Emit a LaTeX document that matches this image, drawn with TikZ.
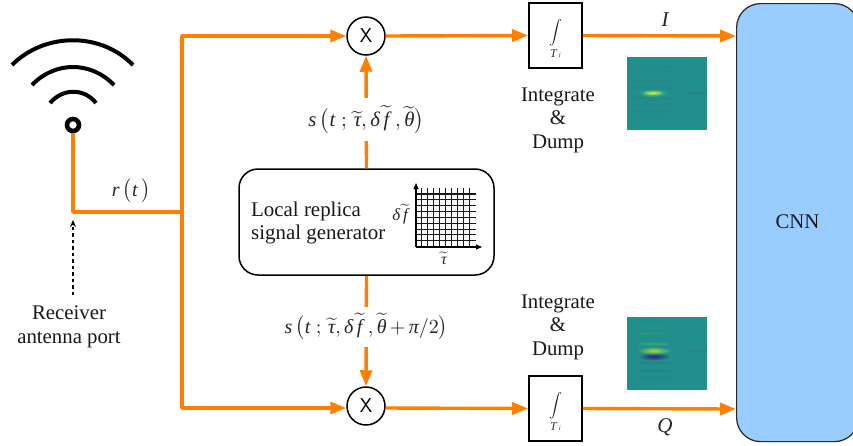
\documentclass[tikz,border=0pt]{standalone}
\usepackage{fontspec}
\usepackage{amsmath}
\usepackage{graphicx}
\setmainfont{Liberation Serif}
\usetikzlibrary{arrows.meta,calc}
\definecolor{sig}{HTML}{FF8000}
\definecolor{cnnblue}{HTML}{99CCFF}
\definecolor{teal1}{HTML}{21908C}
\definecolor{teal2}{HTML}{2A7F8E}
\definecolor{vgreen}{HTML}{5EC962}
\definecolor{vyellow}{HTML}{F0E51E}
\definecolor{vlime}{HTML}{A8DB34}
\definecolor{vpurple}{HTML}{3B1C70}
\tikzset{
  x=1pt,y=-1pt,
  sigline/.style={draw=sig,line width=3.4pt,line join=round},
  sigarrow/.style={sigline,-{Triangle[length=16pt,width=12pt]}},
  wifi/.style={draw=black,line width=4pt},
  mixer/.style={circle,draw=black,line width=1.5pt,minimum size=38pt,inner sep=0pt,font=\fontsize{20}{20}\sffamily},
  intbox/.style={rectangle,draw=black,line width=1.6pt,minimum width=53pt,minimum height=65pt,inner sep=0pt},
  intsym/.style={inner sep=0pt,text=black!90},
  intsub/.style={inner sep=0pt,text=black!80,font=\fontsize{12}{12}\selectfont\itshape},
  txt/.style={font=\fontsize{20.8}{23.5}\selectfont,align=center,text=black!90,inner sep=0pt},
  smalltxt/.style={font=\fontsize{20.9}{23.5}\selectfont,align=left,text=black!90,inner sep=0pt},
  mathlbl/.style={inner sep=0pt,text=black!85},
  heat/.style={fill=teal1,draw=none},
}
\newcommand{\itg}[1]{\hbox{\itshape #1}}
\newcommand{\wtl}[1]{\ensuremath{\widetilde{\itg{#1}}}}
\newcommand{\bigint}{\scalebox{1.3}[1.2]{$\displaystyle\int$}}
\newcommand{\subT}{T\,{\fontsize{7}{7}\selectfont i}}
\newcommand{\sigT}{\raisebox{-2pt}{\scalebox{2.08}{$\itg{s}\,\bigl(\itg{t}\;;\,\wtl{τ},\itg{δ}\,\wtl{f}\;,\wtl{θ}\bigr)$}}}
\newcommand{\sigB}{\raisebox{-3pt}{\scalebox{2}{$\itg{s}\,\bigl(\itg{t}\;;\,\wtl{τ},\itg{δ}\,\wtl{f}\;,\wtl{θ}\,{+}\,\itg{π}/2\bigr)$}}}
\begin{document}
\begin{tikzpicture}
\useasboundingbox (0,0) rectangle (853,445);
\clip (0,0) rectangle (853,445);
\fill[white] (0,0) rectangle (853,445);

% CNN
\node[draw=black!85,fill=cnnblue,line width=1.2pt,rounded corners=24pt,minimum width=122pt,minimum height=438pt,inner sep=0pt,anchor=north west] (cnn) at (736,3) {};
\node[txt] (cnnlbl) at (797.5,222) {CNN};

% wifi
\draw[wifi] (12,65) .. controls (45,32) and (101,32) .. (133,65);
\draw[wifi] (32,85) .. controls (55,61) and (91,61) .. (114,85);
\draw[wifi] (50,103) .. controls (63,88) and (84,88) .. (96,103);
\node[circle,draw=black,line width=4.6pt,minimum size=12pt,inner sep=0pt] (ant) at (73,125) {};

% junctions
\coordinate (rcorner) at (73,212);
\coordinate (bus) at (182,212);
\coordinate (busT) at (182,36);
\coordinate (busB) at (182,408);
\coordinate (cnnT) at (736,36);
\coordinate (cnnB) at (736,409);

% mixers, integrators, generator
\node[mixer] (mixT) at (366,36) {X};
\node[mixer] (mixB) at (366,406) {X};
\node[intbox] (intT) at (555.5,35.5) {};
\node[intbox] (intB) at (555.5,408.5) {};
\node[intsym] (symT) at (555.5,33) {\bigint};
\node[intsym] (symB) at (555.5,406) {\bigint};
\node[intsub] (subT) at (555.5,54) {\subT};
\node[intsub] (subB) at (555.5,427) {\subT};
\node[draw=black,line width=1.5pt,rounded corners=19pt,minimum width=255pt,minimum height=106pt,inner sep=0pt] (gen) at (366.5,222) {};

% connectors
\draw[sigline] (ant.south) -- (rcorner) -- (bus);
\draw[sigarrow] (bus) -- (busT) -- (mixT.west);
\draw[sigarrow] (bus) -- (busB) -- ($(mixB.west)+(0,2)$);
\draw[sigarrow] (mixT.east) -- (intT.west);
\draw[sigarrow] ($(mixB.east)+(0,2)$) -- (intB.west);
\draw[sigarrow] (intT.east) -- (cnnT);
\draw[sigarrow] (intB.east) -- (cnnB);
\draw[sigarrow] (gen.north) -- node[pos=.43,fill=white,mathlbl,minimum height=43pt,minimum width=116pt] (sT) {\sigT} (mixT.south);
\draw[sigarrow] (gen.south) -- node[pos=.46,fill=white,mathlbl,minimum height=40pt,minimum width=158pt] (sB) {\sigB} (mixB.north);

% generator contents
\node[smalltxt,anchor=west] (genlbl) at (251,223) {Local replica\\signal generator};
\draw[black!90,line width=1.05pt] \foreach \i in {1,...,9}{(416+5.9*\i,188) -- (416+5.9*\i,247)}
  \foreach \j in {0,...,9}{(416,194+5.85*\j) -- (475.5,194+5.85*\j)};
\node[mathlbl] (df) at (400,214) {\scalebox{1.7}{$\itg{δ}\,\wtl{f}$}};
\node[mathlbl] (tau) at (444,258.5) {\scalebox{1.6}{$\wtl{τ}$}};
\coordinate (orig) at (416,247);
\coordinate (xend) at (482,247);
\coordinate (yend) at (416,183);
\draw[line width=1.1pt,-{Triangle[length=6pt,width=5pt]}] (orig) -- (xend);
\draw[line width=1.1pt,-{Triangle[length=6pt,width=5pt]}] (orig) -- (yend);

% labels
\node[mathlbl] (rt) at (131,191) {\scalebox{2}{$\itg{r}\,\bigl(\itg{t}\,\bigr)$}};
\node[mathlbl,font=\fontsize{21}{21}\selectfont] (I) at (665,20) {\itshape I};
\node[mathlbl,font=\fontsize{21}{21}\selectfont] (Q) at (665,427) {\itshape Q};
\node[txt] (idT) at (558,120) {Integrate\\\&\\Dump};
\node[txt] (idB) at (558,327) {Integrate\\\&\\Dump};
\node[txt] (rx) at (69,327) {Receiver\\antenna port};
\coordinate (rxtop) at (73,295);
\coordinate (rxarrow) at (73,220);
\draw[line width=1.5pt,dash pattern=on 3.5pt off 3pt,-{Stealth[length=7pt,width=6pt]}] (rxtop) -- (rxarrow);

% heat maps
\fill[heat] (627,57) rectangle (707,130);
\begin{scope}
\clip (627,57) rectangle (707,130);
\foreach \y/\o in {66/.25,72/.25,81/.3,88/.5,98/.5,105/.4,111/.25,118/.25}
  \fill[teal2,opacity=\o] (654,\y) ellipse (22 and 1.5);
\fill[teal2,opacity=.6] (698,93) ellipse (10 and 1.6);
\shade[inner color=vgreen,outer color=teal1] (653,93) ellipse (16 and 4.2);
\shade[inner color=vyellow,outer color=vgreen] (653,93) ellipse (9 and 2);
\end{scope}
\fill[heat] (627,317) rectangle (707,390);
\begin{scope}
\clip (627,317) rectangle (707,390);
\foreach \y/\o in {363/.6,371/.5,378/.3}
  \fill[teal2,opacity=\o] (654,\y) ellipse (18 and 1.6);
\foreach \y/\o in {327/.08,334/.12,344/.3}
  \fill[vgreen,opacity=\o] (654,\y) ellipse (15 and 1.5);
\fill[teal2,opacity=.5] (698,351) ellipse (10 and 1.5);
\shade[inner color=vpurple,outer color=teal1] (654,356.5) ellipse (17 and 4);
\shade[inner color=vlime,outer color=teal1] (654,350.5) ellipse (17 and 3.8);
\end{scope}
\end{tikzpicture}
\end{document}
